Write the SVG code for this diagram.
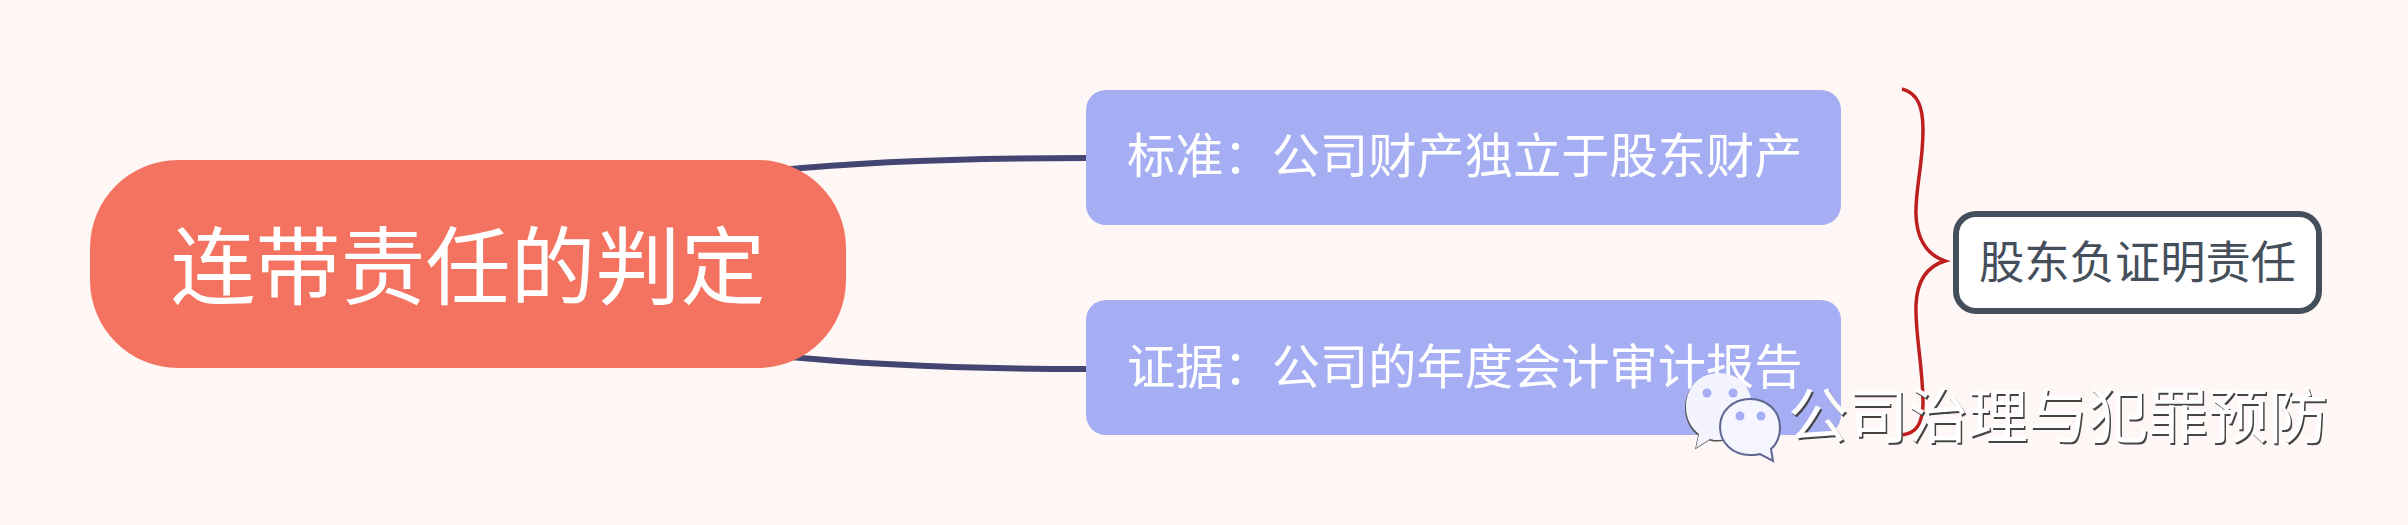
<svg xmlns="http://www.w3.org/2000/svg" width="2408" height="525" viewBox="0 0 2408 525">
<style>
text{font-family:"Noto Sans CJK SC","Liberation Sans",sans-serif;font-weight:400}
.sub{fill:#a5aef3}
.st{fill:#fff;font-size:48.250px}
.link{fill:none;stroke:#434673;stroke-width:6}
.wm{font-size:60px}
.eye{fill:#a5aef3}
</style>
<defs>
<path id="b1" d="M1719 373c-19 0-33 14-33 34 0 11 5 21 13 27l-3 14 14-9c3 1 6 1 9 1 19 0 33-15 33-34 0-19-14-33-33-33z"/>
<path id="b2" d="M1750 399c-17 0-30 12-30 28s13 28 30 28c4 0 7 0 10-1l13 7-2-12c6-5 9-13 9-22 0-16-13-28-30-28z"/>
</defs>
<rect width="2408" height="525" fill="#fff7f5"/>
<g id="connectors">
<path class="link" d="M780 170C880 160 980 158 1086 158"/>
<path class="link" d="M780 356C880 366 980 369 1086 369"/>
<path d="M1902 89C1918 93 1923 107 1923 130C1923 165 1915 190 1916 215C1917 240 1928 255 1945 261C1928 266 1917 280 1916 305C1915 335 1923 365 1923 405C1922 425 1916 433 1902 435" fill="none" stroke="#bf1e1e" stroke-width="3.500"/>
</g>
<g id="root">
<rect x="90" y="160" width="756" height="208" rx="88" ry="88" fill="#f37360"/>
<text x="468" y="298" text-anchor="middle" font-size="85" fill="#fff">连带责任的判定</text>
</g>
<g id="node-standard">
<rect class="sub" x="1086" y="90" width="755" height="135" rx="20"/>
<text class="st" x="1127" y="173">标准：公司财产独立于股东财产</text>
</g>
<g id="node-evidence">
<rect class="sub" x="1086" y="300" width="755" height="135" rx="20"/>
<text class="st" x="1127" y="384">证据：公司的年度会计审计报告</text>
</g>
<g id="node-summary">
<rect x="1956" y="214" width="363" height="97" rx="20" fill="#fff" stroke="#454f5b" stroke-width="6"/>
<text x="1979" y="279" font-size="45.300" fill="#454f5b">股东负证明责任</text>
</g>
<g id="watermark">
<use href="#b1" fill="#555" transform="translate(-1 1.500)"/>
<use href="#b1" fill="#f3f4fe"/>
<circle class="eye" cx="1707" cy="393" r="4.500"/>
<circle class="eye" cx="1733" cy="393" r="4.500"/>
<use href="#b2" fill="#f5f5ff" stroke="#5f6690" stroke-width="2"/>
<circle class="eye" cx="1740" cy="416" r="4.500"/>
<circle class="eye" cx="1761" cy="416" r="4.500"/>
<text class="wm" x="1788" y="438" fill="#444" transform="translate(1.500 1.500)">公司治理与犯罪预防</text>
<text class="wm" x="1788" y="438" fill="#fff">公司治理与犯罪预防</text>
</g>
</svg>
